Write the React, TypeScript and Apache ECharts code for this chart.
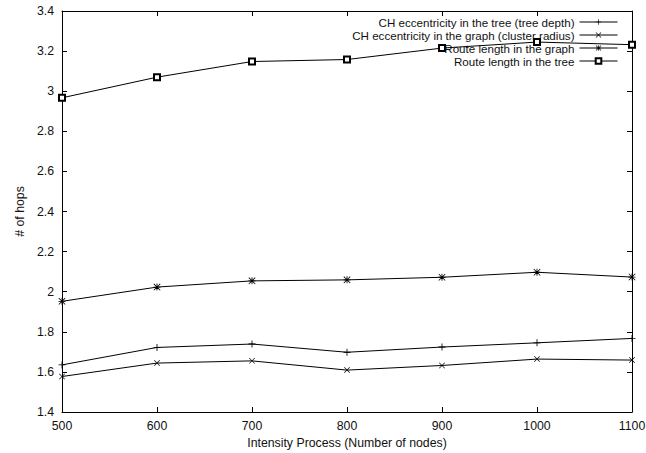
import React, { useEffect, useRef } from "react";
import * as echarts from "echarts";

const nodes = [500, 600, 700, 800, 900, 1000, 1100];
const treeDepth = [1.635, 1.722, 1.739, 1.698, 1.724, 1.745, 1.767];
const clusterRadius = [1.577, 1.644, 1.655, 1.609, 1.632, 1.664, 1.659];
const routeGraph = [1.952, 2.023, 2.054, 2.059, 2.072, 2.097, 2.073];
const routeTree = [2.967, 3.07, 3.148, 3.158, 3.215, 3.245, 3.232];

const seriesNames = [
  "CH eccentricity in the tree (tree depth)",
  "CH eccentricity in the graph (cluster radius)",
  "Route length in the graph",
  "Route length in the tree",
];

const PLUS = "path://M4.4,0 H5.6 V4.4 H10 V5.6 H5.6 V10 H4.4 V5.6 H0 V4.4 H4.4 Z";
const CROSS =
  "path://M0,0.8 L0.8,0 L5,4.2 L9.2,0 L10,0.8 L5.8,5 L10,9.2 L9.2,10 L5,5.8 L0.8,10 L0,9.2 L4.2,5 Z";
const STAR =
  "path://M0,0.8 L0.8,0 L5,4.2 L9.2,0 L10,0.8 L5.8,5 L10,9.2 L9.2,10 L5,5.8 L0.8,10 L0,9.2 L4.2,5 Z M4.4,0 H5.6 V4.4 H10 V5.6 H5.6 V10 H4.4 V5.6 H0 V4.4 H4.4 Z";

const FONT = "Liberation Sans";

export default function App() {
  const ref = useRef<HTMLDivElement>(null);
  useEffect(() => {
    document.body.style.margin = "0";
    const chart = echarts.init(ref.current!, null, { renderer: "svg" });
    const values = [treeDepth, clusterRadius, routeGraph, routeTree];
    const symbols = [PLUS, CROSS, STAR, "emptyRect"];
    const sizes = [7, 6, 7, 6];
    const legendTops = [16, 29, 42, 55];
    const axisCommon = {
      axisLine: { show: true, lineStyle: { color: "#000", width: 1 } },
      axisTick: { show: true, inside: true, length: 5, lineStyle: { color: "#000" } },
      splitLine: { show: false },
    };
    chart.setOption({
      animation: false,
      backgroundColor: "#fff",
      textStyle: { fontFamily: FONT },
      grid: { left: 62, right: 14, top: 11, bottom: 41, containLabel: false, outerBoundsMode: "none" },
      xAxis: [
        {
          type: "value",
          position: "bottom",
          min: 500,
          max: 1100,
          interval: 100,
          name: "Intensity Process (Number of nodes)",
          nameLocation: "middle",
          nameGap: 25,
          nameTextStyle: { fontFamily: FONT, fontSize: 12.3, color: "#111" },
          axisLabel: {
            fontFamily: FONT,
            fontSize: 12.3,
            color: "#111",
            margin: 8,
            formatter: (v: number) => String(v),
          },
          ...axisCommon,
        },
        {
          type: "value",
          position: "top",
          min: 500,
          max: 1100,
          interval: 100,
          axisLabel: { show: false },
          ...axisCommon,
        },
      ],
      yAxis: [
        {
          type: "value",
          position: "left",
          min: 1.4,
          max: 3.4,
          interval: 0.2,
          name: "# of hops",
          nameLocation: "middle",
          nameGap: 36,
          nameTextStyle: { fontFamily: FONT, fontSize: 12.3, color: "#111" },
          axisLabel: {
            fontFamily: FONT,
            fontSize: 12.3,
            color: "#111",
            margin: 8,
            formatter: (v: number) => String(+v.toFixed(1)),
          },
          ...axisCommon,
        },
        {
          type: "value",
          position: "right",
          min: 1.4,
          max: 3.4,
          interval: 0.2,
          axisLabel: { show: false },
          ...axisCommon,
        },
      ],
      legend: seriesNames.map((n, i) => ({
        data: [n],
        orient: "vertical",
        right: 28,
        top: legendTops[i],
        align: "right",
        padding: 0,
        itemWidth: 38,
        itemHeight: 7,
        selectedMode: false,
        lineStyle: { width: 1, color: "#000" },
        itemStyle: {
          color: "#000",
          borderColor: "#000",
          borderWidth: i === 3 ? 0.8 : 0,
        },
        textStyle: { fontFamily: FONT, fontSize: 11.6, lineHeight: 12, color: "#111" },
      })),
      series: seriesNames.map((n, i) => ({
        name: n,
        type: "line",
        xAxisIndex: 0,
        yAxisIndex: 0,
        data: nodes.map((x, j) => [x, values[i][j]]),
        symbol: symbols[i],
        symbolSize: sizes[i],
        showSymbol: true,
        lineStyle: { color: "#000", width: 1 },
        itemStyle: {
          color: "#000",
          borderColor: "#000",
          borderWidth: i === 3 ? 0.8 : 0,
        },
        emphasis: { disabled: true },
        z: 2,
      })),
    });
    return () => chart.dispose();
  }, []);
  return <div ref={ref} style={{ width: 646, height: 453 }} />;
}
